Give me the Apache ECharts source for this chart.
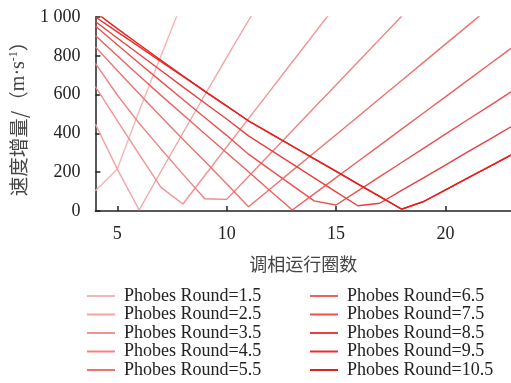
<!DOCTYPE html>
<html>
<head>
<meta charset="utf-8">
<script src="https://cdn.jsdelivr.net/npm/echarts@6/dist/echarts.min.js"></script>
<style>
  html, body { margin: 0; padding: 0; background: #fff; }
  #chart { width: 511px; height: 383px; }
</style>
</head>
<body>
<div id="chart"></div>
<script>
// Phasing rounds (x) and velocity increment (m/s) for each Phobos round
const rounds = [4, 5, 6, 7, 8, 9, 10, 11, 12, 13, 14, 15, 16, 17, 18, 19, 20, 21, 22, 23];

const round15 = [105, 216, 515, 800, 1085];
const round25 = [448, 216, 5, 205, 402, 598, 792, 982, 1170];
const round35 = [641, 466, 292, 122, 36, 183, 330, 476, 622, 768, 914, 1060];
const round45 = [761, 598, 452, 320, 190, 63, 60, 178, 296, 414, 532, 650, 768, 886, 1004];
const round55 = [846, 724, 604, 486, 370, 256, 140, 22, 115, 208, 300, 393, 486, 580, 673, 766, 860, 953, 1047];
const round65 = [905, 800, 697, 596, 497, 398, 300, 202, 103, 5, 88, 172, 255, 338, 422, 505, 588, 672, 755, 838];
const round75 = [954, 857, 762, 668, 575, 482, 390, 293, 212, 132, 52, 31, 104, 177, 250, 323, 396, 469, 541, 614];
const round85 = [977, 892, 808, 724, 640, 557, 474, 387, 315, 243, 171, 99, 27, 40, 106, 171, 237, 303, 368, 434];
const round95 = [1000, 923, 847, 770, 694, 617, 541, 464, 399, 334, 269, 204, 139, 74, 9, 48, 108, 168, 228, 288];
const round105 = [1025, 940, 858, 777, 697, 618, 542, 465, 400, 335, 270, 205, 140, 75, 10, 49, 109, 169, 229, 289];

const seriesNames = [
  'Phobes Round=1.5', 'Phobes Round=2.5', 'Phobes Round=3.5', 'Phobes Round=4.5', 'Phobes Round=5.5',
  'Phobes Round=6.5', 'Phobes Round=7.5', 'Phobes Round=8.5', 'Phobes Round=9.5', 'Phobes Round=10.5'
];
const seriesValues = [round15, round25, round35, round45, round55, round65, round75, round85, round95, round105];
const seriesColors = ['#f7b4b4', '#f5a3a3', '#f39292', '#f18282', '#ef7171',
                      '#ed6060', '#eb5050', '#e93f3f', '#e72e2e', '#e51e1e'];

const xTicks = [5, 10, 15, 20];

const serif = 'Liberation Serif, Times New Roman, serif';
const cjk = 'Noto Sans CJK SC, sans-serif';

const chart = echarts.init(document.getElementById('chart'), null, { renderer: 'canvas' });

const series = seriesNames.map((name, i) => ({
  name: name,
  type: 'line',
  symbol: 'none',
  clip: true,
  data: seriesValues[i].map((v, j) => [rounds[j], v]),
  lineStyle: { color: seriesColors[i], width: 1.4 },
  itemStyle: { color: seriesColors[i] },
  emphasis: { disabled: true }
}));

const legendCommon = {
  orient: 'vertical',
  top: 287,
  padding: 0,
  icon: 'rect',
  itemWidth: 28,
  itemHeight: 2,
  itemGap: 0.5,
  textStyle: { fontFamily: serif, fontSize: 18, color: '#222', lineHeight: 18, padding: [0, 0, 0, 4] }
};

chart.setOption({
  animation: false,
  backgroundColor: '#fff',
  grid: { left: 95, right: 0, top: 17, bottom: 172, containLabel: false },
  legend: [
    Object.assign({}, legendCommon, { left: 87, data: seriesNames.slice(0, 5) }),
    Object.assign({}, legendCommon, { left: 310, data: seriesNames.slice(5) })
  ],
  xAxis: {
    type: 'value',
    min: 4,
    max: 23,
    name: '调相运行圈数',
    nameLocation: 'middle',
    nameGap: 44,
    nameTextStyle: { fontFamily: cjk, fontSize: 18, color: '#444' },
    axisLine: { show: true, lineStyle: { color: '#222', width: 1.5 } },
    axisTick: { show: true, inside: true, length: 5, customValues: xTicks, lineStyle: { color: '#222', width: 1.5 } },
    axisLabel: { customValues: xTicks, fontFamily: serif, fontSize: 18, color: '#222', margin: 14 },
    splitLine: { show: false }
  },
  yAxis: {
    type: 'value',
    min: 0,
    max: 1000,
    interval: 200,
    name: '{c|速度增量/（}{e|m·s}{sup|-1}{c|）}',
    nameLocation: 'middle',
    nameRotate: 90,
    nameGap: 64,
    nameTextStyle: {
      color: '#444',
      rich: {
        c: { fontFamily: cjk, fontSize: 19.5, color: '#444', lineHeight: 22 },
        e: { fontFamily: serif, fontSize: 20, color: '#444', lineHeight: 22 },
        sup: { fontFamily: serif, fontSize: 12, color: '#444', verticalAlign: 'top', lineHeight: 22, padding: [0, 0, 9, 0] }
      }
    },
    axisLine: { show: true, lineStyle: { color: '#222', width: 1.5 } },
    axisTick: { show: true, inside: true, length: 5, lineStyle: { color: '#222', width: 1.5 } },
    axisLabel: {
      fontFamily: serif, fontSize: 18, color: '#222', margin: 15,
      formatter: v => (v >= 1000 ? String(v).replace(/(\d)(\d{3})$/, '$1 $2') : String(v))
    },
    splitLine: { show: false }
  },
  series: series
});
</script>
</body>
</html>
